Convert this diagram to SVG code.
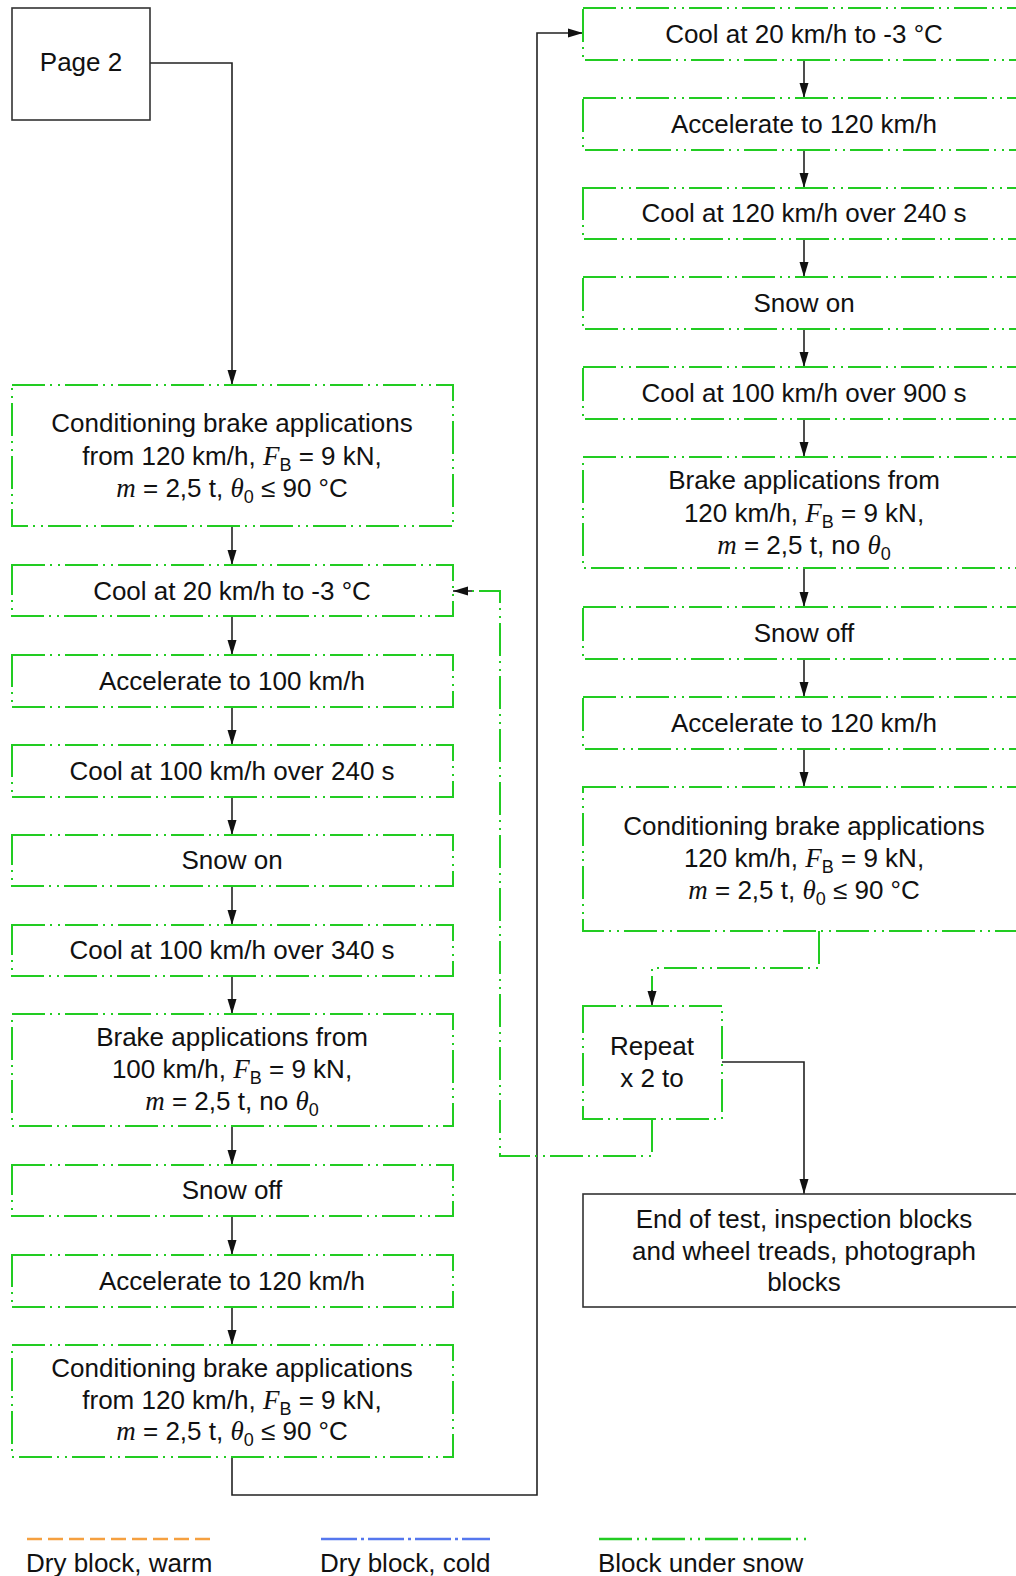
<svg xmlns="http://www.w3.org/2000/svg" width="1016" height="1576" viewBox="0 0 1016 1576">
<defs>
<marker id="arr" markerUnits="userSpaceOnUse" markerWidth="16" markerHeight="10" refX="15" refY="5" orient="auto">
<path d="M0,0.5 L15,5 L0,9.5 z" fill="#111"/>
</marker>
<style>
.snow{fill:#fff;stroke:#22cc22;stroke-width:2;stroke-dasharray:33 5 2 6 2 5}
.plain{fill:#fff;stroke:#333;stroke-width:1.6}
.t{font-family:"Liberation Sans",Arial,sans-serif;font-size:26px;fill:#111;text-anchor:middle}
.i{font-family:"Liberation Serif","Times New Roman",serif;font-style:italic;font-size:27px}
.s{font-size:18px}
.c{fill:none;stroke:#222;stroke-width:1.6}
.cg{fill:none;stroke:#22cc22;stroke-width:2;stroke-dasharray:33 5 2 6 2 5}
.lg{font-family:"Liberation Sans",Arial,sans-serif;font-size:26px;fill:#111}
</style>
</defs>

<g id="connectors">
<path class="c" d="M150 63 H232 V385" marker-end="url(#arr)"/>
<path class="c" d="M232 526 V565" marker-end="url(#arr)"/>
<path class="c" d="M232 616 V655" marker-end="url(#arr)"/>
<path class="c" d="M232 707 V745" marker-end="url(#arr)"/>
<path class="c" d="M232 797 V835" marker-end="url(#arr)"/>
<path class="c" d="M232 886 V925" marker-end="url(#arr)"/>
<path class="c" d="M232 976 V1014" marker-end="url(#arr)"/>
<path class="c" d="M232 1126 V1165" marker-end="url(#arr)"/>
<path class="c" d="M232 1216 V1255" marker-end="url(#arr)"/>
<path class="c" d="M232 1307 V1345" marker-end="url(#arr)"/>
<path class="c" d="M232 1457 V1495 H537 V33 H583" marker-end="url(#arr)"/>
<path class="c" d="M804 60 V98" marker-end="url(#arr)"/>
<path class="c" d="M804 150 V188" marker-end="url(#arr)"/>
<path class="c" d="M804 239 V277" marker-end="url(#arr)"/>
<path class="c" d="M804 329 V367" marker-end="url(#arr)"/>
<path class="c" d="M804 419 V457" marker-end="url(#arr)"/>
<path class="c" d="M804 568 V607" marker-end="url(#arr)"/>
<path class="c" d="M804 659 V697" marker-end="url(#arr)"/>
<path class="c" d="M804 749 V787" marker-end="url(#arr)"/>
<path class="cg" d="M819 931 V968 H652 V992"/>
<path class="c" d="M652 990 V1006" marker-end="url(#arr)"/>
<path class="cg" d="M652 1119 V1156 H500 V591 H470"/>
<path class="c" d="M472 591 H453" marker-end="url(#arr)"/>
<path class="c" d="M722 1062 H804 V1194" marker-end="url(#arr)"/>
</g>

<g id="page2"><rect class="plain" x="12" y="8" width="138" height="112"/><text class="t" x="81" y="71">Page 2</text></g>

<g id="L1"><rect class="snow" x="12" y="385" width="441" height="141"/>
<text class="t" x="232" y="432">Conditioning brake applications</text>
<text class="t" x="232" y="464.5">from 120 km/h, <tspan class="i">F</tspan><tspan class="s" dy="6">B</tspan><tspan dy="-6"> = 9 kN,</tspan></text>
<text class="t" x="232" y="497"><tspan class="i">m</tspan> = 2,5 t, <tspan class="i">θ</tspan><tspan class="s" dy="6">0</tspan><tspan dy="-6"> ≤ 90 °C</tspan></text></g>
<g id="L2"><rect class="snow" x="12" y="565" width="441" height="51"/><text class="t" x="232" y="600">Cool at 20 km/h to -3 °C</text></g>
<g id="L3"><rect class="snow" x="12" y="655" width="441" height="52"/><text class="t" x="232" y="690">Accelerate to 100 km/h</text></g>
<g id="L4"><rect class="snow" x="12" y="745" width="441" height="52"/><text class="t" x="232" y="780">Cool at 100 km/h over 240 s</text></g>
<g id="L5"><rect class="snow" x="12" y="835" width="441" height="51"/><text class="t" x="232" y="869">Snow on</text></g>
<g id="L6"><rect class="snow" x="12" y="925" width="441" height="51"/><text class="t" x="232" y="959">Cool at 100 km/h over 340 s</text></g>
<g id="L7"><rect class="snow" x="12" y="1014" width="441" height="112"/>
<text class="t" x="232" y="1046">Brake applications from</text>
<text class="t" x="232" y="1078">100 km/h, <tspan class="i">F</tspan><tspan class="s" dy="6">B</tspan><tspan dy="-6"> = 9 kN,</tspan></text>
<text class="t" x="232" y="1110"><tspan class="i">m</tspan> = 2,5 t, no <tspan class="i">θ</tspan><tspan class="s" dy="6">0</tspan></text></g>
<g id="L8"><rect class="snow" x="12" y="1165" width="441" height="51"/><text class="t" x="232" y="1199">Snow off</text></g>
<g id="L9"><rect class="snow" x="12" y="1255" width="441" height="52"/><text class="t" x="232" y="1290">Accelerate to 120 km/h</text></g>
<g id="L10"><rect class="snow" x="12" y="1345" width="441" height="112"/>
<text class="t" x="232" y="1377">Conditioning brake applications</text>
<text class="t" x="232" y="1408.5">from 120 km/h, <tspan class="i">F</tspan><tspan class="s" dy="6">B</tspan><tspan dy="-6"> = 9 kN,</tspan></text>
<text class="t" x="232" y="1440"><tspan class="i">m</tspan> = 2,5 t, <tspan class="i">θ</tspan><tspan class="s" dy="6">0</tspan><tspan dy="-6"> ≤ 90 °C</tspan></text></g>

<g id="R1"><rect class="snow" x="583" y="8" width="442" height="52"/><text class="t" x="804" y="43">Cool at 20 km/h to -3 °C</text></g>
<g id="R2"><rect class="snow" x="583" y="98" width="442" height="52"/><text class="t" x="804" y="133">Accelerate to 120 km/h</text></g>
<g id="R3"><rect class="snow" x="583" y="188" width="442" height="51"/><text class="t" x="804" y="222">Cool at 120 km/h over 240 s</text></g>
<g id="R4"><rect class="snow" x="583" y="277" width="442" height="52"/><text class="t" x="804" y="312">Snow on</text></g>
<g id="R5"><rect class="snow" x="583" y="367" width="442" height="52"/><text class="t" x="804" y="402">Cool at 100 km/h over 900 s</text></g>
<g id="R6"><rect class="snow" x="583" y="457" width="442" height="111"/>
<text class="t" x="804" y="489">Brake applications from</text>
<text class="t" x="804" y="521.5">120 km/h, <tspan class="i">F</tspan><tspan class="s" dy="6">B</tspan><tspan dy="-6"> = 9 kN,</tspan></text>
<text class="t" x="804" y="554"><tspan class="i">m</tspan> = 2,5 t, no <tspan class="i">θ</tspan><tspan class="s" dy="6">0</tspan></text></g>
<g id="R7"><rect class="snow" x="583" y="607" width="442" height="52"/><text class="t" x="804" y="642">Snow off</text></g>
<g id="R8"><rect class="snow" x="583" y="697" width="442" height="52"/><text class="t" x="804" y="732">Accelerate to 120 km/h</text></g>
<g id="R9"><rect class="snow" x="583" y="787" width="442" height="144"/>
<text class="t" x="804" y="835">Conditioning brake applications</text>
<text class="t" x="804" y="867">120 km/h, <tspan class="i">F</tspan><tspan class="s" dy="6">B</tspan><tspan dy="-6"> = 9 kN,</tspan></text>
<text class="t" x="804" y="899"><tspan class="i">m</tspan> = 2,5 t, <tspan class="i">θ</tspan><tspan class="s" dy="6">0</tspan><tspan dy="-6"> ≤ 90 °C</tspan></text></g>
<g id="repeat"><rect class="snow" x="583" y="1006" width="139" height="113"/>
<text class="t" x="652" y="1055">Repeat</text><text class="t" x="652" y="1087">x 2 to</text></g>
<g id="end"><rect class="plain" x="583" y="1194" width="442" height="113"/>
<text class="t" x="804" y="1228">End of test, inspection blocks</text>
<text class="t" x="804" y="1260">and wheel treads, photograph</text>
<text class="t" x="804" y="1291">blocks</text></g>

<g id="legend">
<line x1="27" y1="1539" x2="213" y2="1539" stroke="#f5a040" stroke-width="2.5" stroke-dasharray="15 6"/>
<text class="lg" x="26" y="1572">Dry block, warm</text>
<line x1="321" y1="1539" x2="490" y2="1539" stroke="#5577ee" stroke-width="2.5" stroke-dasharray="36 4 3 4"/>
<text class="lg" x="320" y="1572">Dry block, cold</text>
<line x1="599" y1="1539" x2="806" y2="1539" stroke="#22cc22" stroke-width="2.5" stroke-dasharray="33 5 2 6 2 5"/>
<text class="lg" x="598" y="1572">Block under snow</text>
</g>
</svg>
